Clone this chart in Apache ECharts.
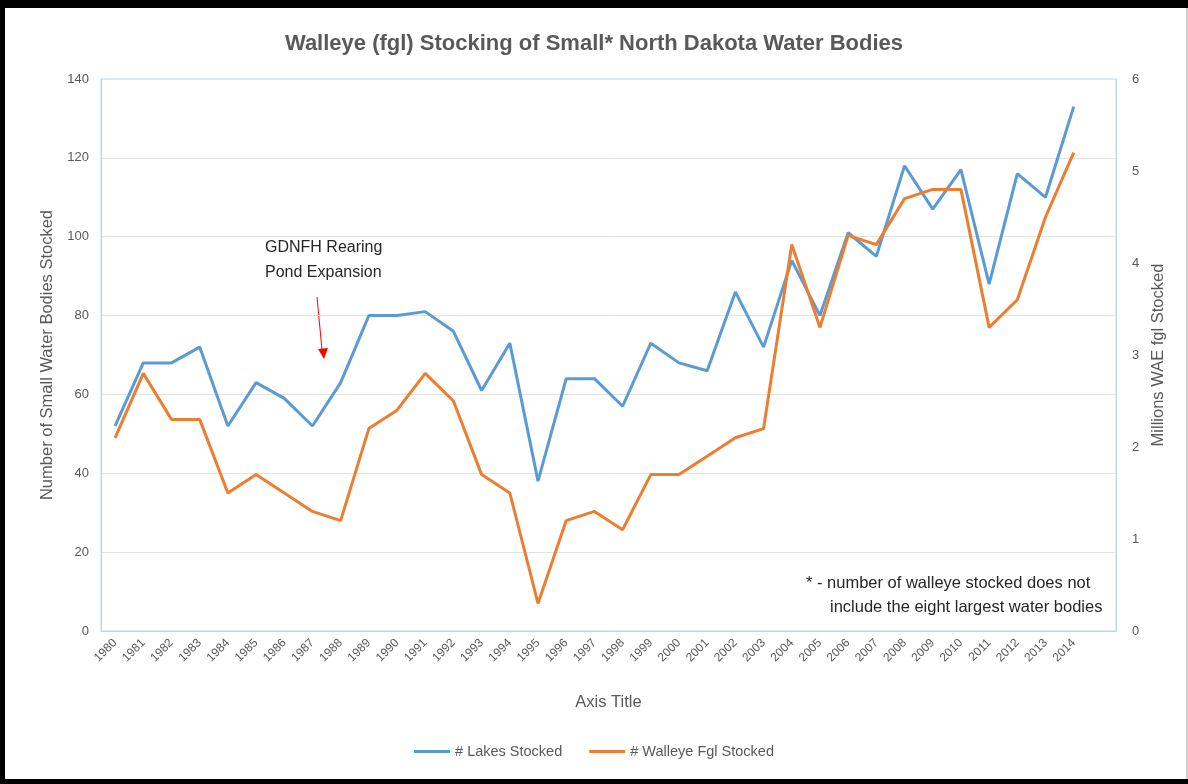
<!DOCTYPE html>
<html>
<head>
<meta charset="utf-8">
<script src="https://cdn.jsdelivr.net/npm/echarts@6/dist/echarts.min.js"></script>
<style>
  html, body { margin: 0; padding: 0; background: #fff; }
  #chart { width: 1188px; height: 784px; }
</style>
</head>
<body>
<div id="chart"></div>
<script>
// years on the category axis (last slot is blank, as in the original)
var years = ["1980","1981","1982","1983","1984","1985","1986","1987","1988","1989",
  "1990","1991","1992","1993","1994","1995","1996","1997","1998","1999",
  "2000","2001","2002","2003","2004","2005","2006","2007","2008","2009",
  "2010","2011","2012","2013","2014",""];

// number of small water bodies stocked (left axis)
var lakesStocked = [52,68,68,72,52,63,59,52,63,80,
  80,81,76,61,73,38,64,64,57,73,
  68,66,86,72,94,80,101,95,118,107,
  117,88,116,110,133,null];

// millions of walleye fingerlings stocked (right axis)
var walleyeStocked = [2.1,2.8,2.3,2.3,1.5,1.7,1.5,1.3,1.2,2.2,
  2.4,2.8,2.5,1.7,1.5,0.3,1.2,1.3,1.1,1.7,
  1.7,1.9,2.1,2.2,4.2,3.3,4.3,4.2,4.7,4.8,
  4.8,3.3,3.6,4.5,5.2,null];

var leftTicks = [0, 140, 20];
var rightTicks = [0, 6, 1];

var font = "Liberation Sans";
var chart = echarts.init(document.getElementById("chart"));

var option = {
  backgroundColor: "#ffffff",
  animation: false,
  title: {
    text: "Walleye (fgl) Stocking of Small* North Dakota Water Bodies",
    left: "center",
    top: 28,
    textStyle: { color: "#595959", fontSize: 22, fontWeight: "bold", fontFamily: font }
  },
  legend: {
    bottom: 20,
    left: "center",
    icon: "rect",
    itemWidth: 36,
    itemHeight: 3,
    itemGap: 27,
    textStyle: { color: "#595959", fontSize: 14.5, fontFamily: font },
    data: ["# Lakes Stocked", "# Walleye Fgl Stocked"]
  },
  grid: {
    left: 101,
    right: 72,
    top: 79,
    bottom: 153,
    show: true,
    borderColor: "#bdd7ee",
    borderWidth: 1,
    containLabel: false
  },
  xAxis: {
    type: "category",
    data: years,
    boundaryGap: true,
    name: "Axis Title",
    nameLocation: "middle",
    nameGap: 63,
    nameTextStyle: { color: "#595959", fontSize: 16.5, fontFamily: font },
    axisLine: { lineStyle: { color: "#bdd7ee" } },
    axisTick: { show: false },
    axisLabel: {
      rotate: 45,
      interval: 0,
      margin: 10,
      color: "#595959",
      fontSize: 12,
      fontFamily: font
    }
  },
  yAxis: [
    {
      type: "value",
      min: leftTicks[0],
      max: leftTicks[1],
      interval: leftTicks[2],
      name: "Number of Small Water Bodies Stocked",
      nameLocation: "middle",
      nameGap: 44,
      nameTextStyle: { color: "#595959", fontSize: 16.5, fontFamily: font },
      axisLine: { show: true, lineStyle: { color: "#bdd7ee" } },
      axisTick: { show: false },
      axisLabel: { color: "#595959", fontSize: 13, margin: 12, fontFamily: font },
      splitLine: { lineStyle: { color: "#e3e3e3" } }
    },
    {
      type: "value",
      min: rightTicks[0],
      max: rightTicks[1],
      interval: rightTicks[2],
      name: "Millions WAE fgl Stocked",
      nameLocation: "middle",
      nameGap: 33,
      nameRotate: 90,
      nameTextStyle: { color: "#595959", fontSize: 16.5, fontFamily: font },
      axisLine: { show: true, lineStyle: { color: "#bdd7ee" } },
      axisTick: { show: false },
      axisLabel: { color: "#595959", fontSize: 13, margin: 16, fontFamily: font },
      splitLine: { show: false }
    }
  ],
  series: [
    {
      name: "# Lakes Stocked",
      type: "line",
      yAxisIndex: 0,
      data: lakesStocked,
      showSymbol: false,
      symbol: "none",
      lineStyle: { color: "#5b9bd5", width: 3 },
      itemStyle: { color: "#5b9bd5" }
    },
    {
      name: "# Walleye Fgl Stocked",
      type: "line",
      yAxisIndex: 1,
      data: walleyeStocked,
      showSymbol: false,
      symbol: "none",
      lineStyle: { color: "#ed7d31", width: 3 },
      itemStyle: { color: "#ed7d31" }
    }
  ],
  graphic: [
    {
      type: "text",
      left: 265,
      top: 235,
      style: {
        text: "GDNFH Rearing\nPond Expansion",
        fill: "#262626",
        font: "16px " + font,
        lineHeight: 25
      }
    },
    {
      type: "line",
      shape: { x1: 317, y1: 297, x2: 322, y2: 350 },
      style: { stroke: "#ff0000", lineWidth: 1 }
    },
    {
      type: "polygon",
      shape: { points: [[318, 349], [328, 348], [324, 359]] },
      style: { fill: "#ff0000" }
    },
    {
      type: "text",
      left: 806,
      top: 575,
      style: {
        text: "* - number of walleye stocked does not",
        fill: "#262626",
        font: "16.5px " + font
      }
    },
    {
      type: "text",
      left: 830,
      top: 599,
      style: {
        text: "include the eight largest water bodies",
        fill: "#262626",
        font: "16.5px " + font
      }
    },
    // black picture frame
    { type: "rect", shape: { x: 0, y: 0, width: 1188, height: 8 }, style: { fill: "#000" }, z: 100 },
    { type: "rect", shape: { x: 0, y: 0, width: 5, height: 784 }, style: { fill: "#000" }, z: 100 },
    { type: "rect", shape: { x: 0, y: 779, width: 1188, height: 5 }, style: { fill: "#000" }, z: 100 },
    { type: "rect", shape: { x: 1186, y: 0, width: 2, height: 784 }, style: { fill: "#cfcfcf" }, z: 99 }
  ]
};

chart.setOption(option);
</script>
</body>
</html>
